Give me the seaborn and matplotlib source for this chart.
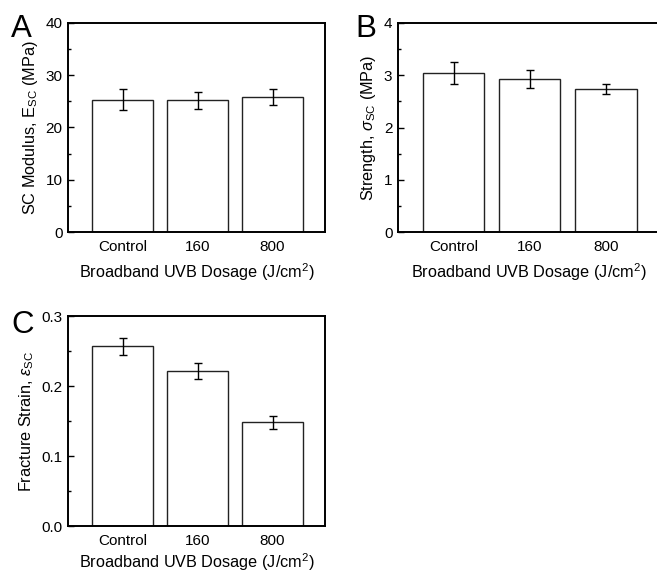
import matplotlib
matplotlib.use("Agg")
import matplotlib.pyplot as plt
from matplotlib.ticker import MultipleLocator
import seaborn as sns
import pandas as pd

categories = ["Control", "160", "800"]
modulus = [25.3, 25.2, 25.8]
modulus_err = [2.0, 1.6, 1.5]
strength = [3.04, 2.93, 2.73]
strength_err = [0.21, 0.18, 0.095]
strain = [0.257, 0.221, 0.148]
strain_err = [0.012, 0.0115, 0.0095]

xlabel = r"Broadband UVB Dosage (J/cm$^{2}$)"

sns.set_theme(style="ticks")
plt.rcParams["font.family"] = ["Liberation Sans", "DejaVu Sans"]
plt.rcParams["mathtext.fontset"] = "custom"
plt.rcParams["mathtext.rm"] = "Liberation Sans"
plt.rcParams["mathtext.it"] = "Liberation Sans:italic"
plt.rcParams["mathtext.sf"] = "Liberation Sans"
plt.rcParams["text.color"] = "black"
plt.rcParams["axes.labelcolor"] = "black"
plt.rcParams["xtick.color"] = "black"
plt.rcParams["ytick.color"] = "black"

fig = plt.figure(figsize=(6.57, 5.75), dpi=100)
W, H = 657, 575


def ax_at(l, t, r, b):
    return fig.add_axes([l / W, (H - b) / H, (r - l) / W, (b - t) / H])


panels = [
    (ax_at(68, 23, 325, 232), "A", (11, 37), modulus, modulus_err, (0, 40), 10, 5,
     r"SC Modulus, E$_{\mathrm{SC}}$ (MPa)", "{:.0f}", 5),
    (ax_at(398, 23, 659, 232), "B", (355, 37), strength, strength_err, (0, 4), 1, 0.5,
     r"Strength, $\sigma_{\mathrm{SC}}$ (MPa)", "{:.0f}", 5),
    (ax_at(68, 316, 325, 526), "C", (11, 333), strain, strain_err, (0, 0.3), 0.1, 0.05,
     r"Fracture Strain, $\varepsilon_{\mathrm{SC}}$", "{:.1f}", 2),
]

for ax, letter, lpos, vals, errs, ylim, major, minor, ylab, fmt, xpad in panels:
    df = pd.DataFrame({"dose": categories, "val": vals})
    sns.barplot(data=df, x="dose", y="val", ax=ax, color="white",
                edgecolor="#222222", linewidth=1.0, width=0.81,
                errorbar=None, saturation=1)
    ax.errorbar(range(len(categories)), vals, yerr=errs, fmt="none",
                ecolor="black", elinewidth=1.0, capsize=3, capthick=1.0)
    ax.set_xlim(-0.73, 2.7)
    ax.set_ylim(*ylim)
    ax.yaxis.set_major_locator(MultipleLocator(major))
    ax.yaxis.set_minor_locator(MultipleLocator(minor))
    ax.set_yticklabels([fmt.format(v) for v in ax.get_yticks()])
    for s in ax.spines.values():
        s.set_visible(True)
        s.set_linewidth(1.4)
        s.set_color("black")
    ax.tick_params(axis="both", which="both", direction="in", top=False,
                   right=False, labelsize=11, colors="black", pad=4)
    ax.tick_params(axis="y", which="major", length=4, width=1)
    ax.tick_params(axis="y", which="minor", length=2.5, width=1)
    ax.tick_params(axis="x", which="major", length=4, width=1, pad=6)
    ax.set_xlabel(xlabel, fontsize=11.7, labelpad=xpad)
    ax.set_ylabel(ylab, fontsize=11.7, labelpad=4)
    fig.text(lpos[0] / W, (H - lpos[1]) / H, letter, fontsize=22.5,
             ha="left", va="baseline")

fig.savefig("out.png", dpi=100)
